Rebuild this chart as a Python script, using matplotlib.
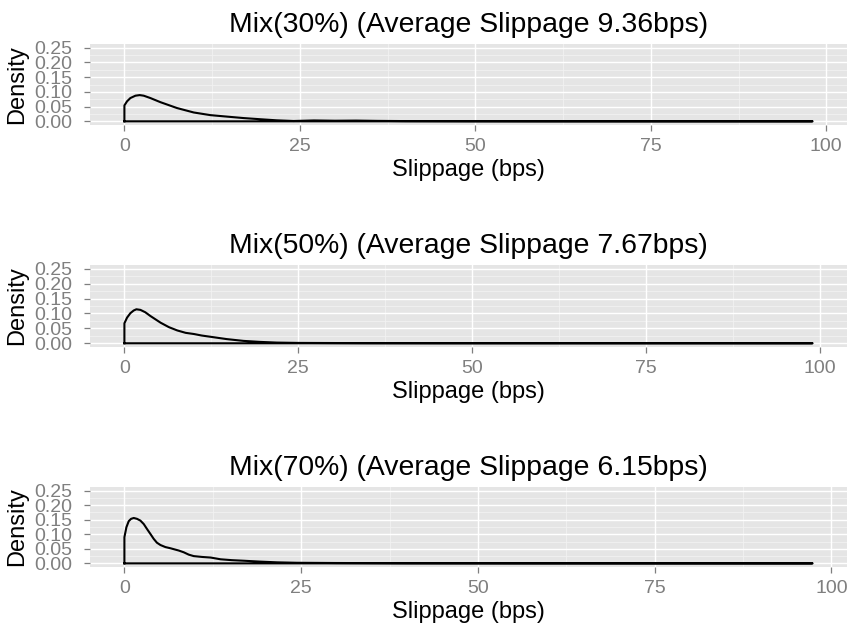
import matplotlib
matplotlib.use("Agg")
import matplotlib.pyplot as plt

plt.rcParams["font.family"] = ["Liberation Sans", "DejaVu Sans"]

mixes = ["30%", "50%", "70%"]
avg_slippage = [9.36, 7.67, 6.15]
max_slippage = [98.05, 98.9, 97.35]

# density estimates of slippage (bps) for each mix
slip_30 = [0, 0.38, 0.85, 1.57, 2.18, 2.75, 3.7, 5.13, 7.5, 9.88, 12.25, 14.6, 17.0,
           19.4, 21.7, 24.1, 27, 30, 33, 36, 40, 50, 60, 80, 98.05]
dens_30 = [0.054, 0.068, 0.079, 0.087, 0.089, 0.087, 0.079, 0.065, 0.045, 0.030, 0.021,
           0.016, 0.011, 0.007, 0.0034, 0.0011, 0.003, 0.002, 0.0025, 0.0015, 0.0008,
           0.0004, 0.0002, 0.0001, 0.0]

slip_50 = [0, 0.38, 0.86, 1.34, 1.72, 2.3, 3.0, 3.7, 5.2, 6.4, 7.6, 8.8, 10.0, 11.1,
           12.3, 14.7, 17.1, 19.5, 21.9, 25, 30, 35, 45, 60, 80, 98.9]
dens_50 = [0.067, 0.086, 0.101, 0.110, 0.114, 0.112, 0.104, 0.092, 0.069, 0.054, 0.043,
           0.035, 0.031, 0.026, 0.022, 0.014, 0.008, 0.0046, 0.0023, 0.0012, 0.0008,
           0.0005, 0.0003, 0.0002, 0.0001, 0.0]

slip_70 = [0, 0.28, 0.61, 0.94, 1.32, 1.79, 2.26, 2.74, 3.2, 3.68, 4.15, 4.6, 5.1, 5.8,
           6.5, 7.7, 8.4, 9.1, 9.8, 11.0, 12.2, 13.6, 15.2, 16.9, 19.2, 21.6, 24.4, 30,
           40, 55, 75, 97.35]
dens_70 = [0.090, 0.124, 0.145, 0.153, 0.156, 0.153, 0.147, 0.135, 0.118, 0.101, 0.084,
           0.071, 0.063, 0.056, 0.052, 0.044, 0.038, 0.030, 0.025, 0.022, 0.020, 0.014,
           0.011, 0.009, 0.006, 0.0035, 0.002, 0.0012, 0.0006, 0.0003, 0.0001, 0.0]

slips = [slip_30, slip_50, slip_70]
dens = [dens_30, dens_50, dens_70]

x_major = [0, 25, 50, 75, 100]
x_minor = [12.5, 37.5, 62.5, 87.5]
y_major = [0.0, 0.05, 0.10, 0.15, 0.20, 0.25]
y_minor = [0.025, 0.075, 0.125, 0.175, 0.225]

fig = plt.figure(figsize=(8.5, 6.26), dpi=100)

panel_tops = [44, 265, 487]
panel_bottoms = [125, 347, 567]
W, H = 850, 626

for i in range(3):
    top, bot = panel_tops[i], panel_bottoms[i]
    ax = fig.add_axes([90 / W, 1 - bot / H, 757 / W, (bot - top) / H])
    ax.set_facecolor("#E5E5E5")
    for s in ax.spines.values():
        s.set_visible(False)

    xmax = max_slippage[i]
    ax.set_xlim(-0.05 * xmax, 1.05 * xmax)
    ax.set_ylim(-0.0125, 0.2625)

    for v in x_minor:
        ax.axvline(v, color="#F2F2F2", lw=0.6, zorder=0)
    for v in y_minor:
        ax.axhline(v, color="#F2F2F2", lw=0.6, zorder=0)
    for v in x_major:
        ax.axvline(v, color="white", lw=1.0, zorder=0.5)
    for v in y_major:
        ax.axhline(v, color="white", lw=1.0, zorder=0.5)

    # outline of the density polygon, closed along the baseline
    xs = [0] + slips[i] + [0]
    ys = [0] + dens[i] + [0]
    ax.plot(xs, ys, color="black", lw=1.5, solid_joinstyle="round", zorder=3)

    ax.set_xticks(x_major)
    ax.set_xticklabels([str(v) for v in x_major])
    ax.set_yticks(y_major)
    ax.set_yticklabels(["%.2f" % v for v in y_major])
    ax.tick_params(axis="both", colors="#7F7F7F", labelcolor="#7F7F7F",
                   labelsize=14, length=4.5, width=0.9)
    ax.tick_params(axis="x", pad=5)
    ax.tick_params(axis="y", pad=8)

    ax.set_title("Mix(%s) (Average Slippage %.2fbps)" % (mixes[i], avg_slippage[i]),
                 fontsize=20.4, pad=8.6)
    ax.set_xlabel("Slippage (bps)", fontsize=17)
    ax.set_ylabel("Density", fontsize=17)
    ax.xaxis.set_label_coords(0.5, -0.42)
    ax.yaxis.set_label_coords(-0.082, 0.5)

fig.savefig("out.png", dpi=100)
